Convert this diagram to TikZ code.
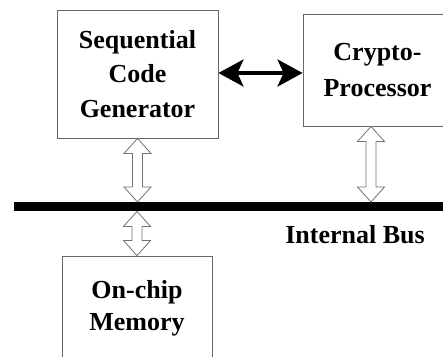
\documentclass[tikz,border=0pt]{standalone}
\usepackage{fontspec}
\setmainfont{Liberation Serif}
\usetikzlibrary{arrows.meta,calc}

% Hollow double-headed arrow drawn as an outline between two points on one vertical
\newcommand\hollowlink[2]{%
  \draw[hollow] let \p1=(#1), \p2=(#2) in
    (\x1,\y1) -- (\x1+13.5pt,\y1-15pt) -- (\x1+5pt,\y1-15pt) -- (\x1+5pt,\y2+15pt)
    -- (\x1+13.5pt,\y2+15pt) -- (\x1,\y2) -- (\x1-13.5pt,\y2+15pt) -- (\x1-5pt,\y2+15pt)
    -- (\x1-5pt,\y1-15pt) -- (\x1-13.5pt,\y1-15pt) -- cycle;}

\tikzset{
  box/.style={draw=black!60, line width=0.9pt, align=center, inner sep=0pt, fill=white},
  hollow/.style={draw=black!55, line width=0.8pt, fill=white, line join=miter},
  biarrow/.style={line width=3.5pt, {Stealth[length=25pt,width=27pt,inset=6pt]}-{Stealth[length=25pt,width=27pt,inset=6pt]}},
  busbar/.style={fill=black, inner sep=0pt, minimum width=440pt, minimum height=9pt},
  lbl/.style={font=\fontsize{26pt}{34pt}\selectfont\bfseries}
}

\begin{document}
\begin{tikzpicture}[x=1pt,y=-1pt]
  \useasboundingbox (0,0) rectangle (443,356);
  \clip (0,0) rectangle (443,356);

  % functional blocks
  \node[box, minimum width=161pt, minimum height=128pt,
        font=\fontsize{26pt}{34.5pt}\selectfont\bfseries] (scg) at (137.5,74)
        {Sequential\\Code\\Generator};
  \node[box, minimum width=149pt, minimum height=112pt,
        font=\fontsize{26pt}{36pt}\selectfont\bfseries] (cpu) at (377.5,70)
        {Crypto-\\Processor};
  \node[box, minimum width=150pt, minimum height=104pt,
        font=\fontsize{26pt}{32pt}\selectfont\bfseries] (mem) at (137,308)
        {On-chip\\Memory};

  % internal bus
  \node[busbar, anchor=north west] (bus) at (14,202) {};
  \node[lbl, anchor=base] (buslabel) at (355,243) {Internal Bus};

  % direct link between the generator and the crypto-processor
  \coordinate (mid) at (260,73);
  \draw[biarrow] (scg.east |- mid) -- (cpu.west |- mid);

  % bus connections
  \coordinate (rx) at (371,0);
  \hollowlink{scg.south}{scg.south |- bus.north}
  \hollowlink{cpu.south -| rx}{bus.north -| rx}
  \hollowlink{mem.north |- bus.south}{mem.north}
\end{tikzpicture}
\end{document}
